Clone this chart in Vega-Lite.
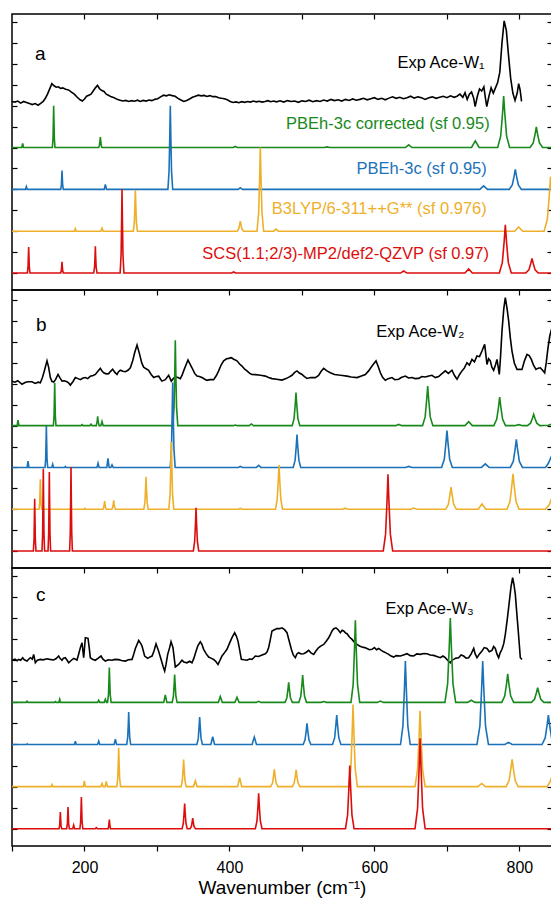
{
"$schema":"https://vega.github.io/schema/vega-lite/v6.json",
"padding":{"left":10,"top":12,"right":0,"bottom":0},
"spacing":0,
"bounds":"flush",
"config":{"view":{"stroke":"#000","strokeWidth":1.5},"axis":{"tickColor":"#000","tickWidth":1.2,"labelColor":"#000","titleColor":"#000","labelFont":"Liberation Sans","titleFont":"Liberation Sans","minExtent":0,"grid":false,"domain":false},"text":{"font":"Liberation Sans"}},
"datasets":{
"a":[
{"s":"e","x":100,"y":8.2},{"s":"e","x":104,"y":8.17},{"s":"e","x":108,"y":8.22},{"s":"e","x":112,"y":8.12},{"s":"e","x":116,"y":8.2},{"s":"e","x":120,"y":8.15},{"s":"e","x":124,"y":8.1},{"s":"e","x":128,"y":8.05},{"s":"e","x":132,"y":8.1},{"s":"e","x":136,"y":8.02},{"s":"e","x":140,"y":8.12},{"s":"e","x":143,"y":8.2},{"s":"e","x":146,"y":8.35},{"s":"e","x":149,"y":8.55},{"s":"e","x":152,"y":8.8},{"s":"e","x":155,"y":9.05},{"s":"e","x":158,"y":8.95},{"s":"e","x":161,"y":8.88},{"s":"e","x":164,"y":8.9},{"s":"e","x":167,"y":8.82},{"s":"e","x":170,"y":8.85},{"s":"e","x":174,"y":8.78},{"s":"e","x":178,"y":8.75},{"s":"e","x":182,"y":8.65},{"s":"e","x":186,"y":8.55},{"s":"e","x":190,"y":8.4},{"s":"e","x":194,"y":8.28},{"s":"e","x":197,"y":8.22},{"s":"e","x":200,"y":8.32},{"s":"e","x":203,"y":8.45},{"s":"e","x":206,"y":8.5},{"s":"e","x":209,"y":8.55},{"s":"e","x":212,"y":8.7},{"s":"e","x":215,"y":8.85},{"s":"e","x":218,"y":8.97},{"s":"e","x":221,"y":8.8},{"s":"e","x":224,"y":8.72},{"s":"e","x":227,"y":8.68},{"s":"e","x":230,"y":8.55},{"s":"e","x":233,"y":8.5},{"s":"e","x":237,"y":8.42},{"s":"e","x":241,"y":8.38},{"s":"e","x":245,"y":8.3},{"s":"e","x":249,"y":8.26},{"s":"e","x":253,"y":8.22},{"s":"e","x":257,"y":8.25},{"s":"e","x":261,"y":8.2},{"s":"e","x":265,"y":8.24},{"s":"e","x":269,"y":8.21},{"s":"e","x":273,"y":8.26},{"s":"e","x":277,"y":8.2},{"s":"e","x":281,"y":8.25},{"s":"e","x":285,"y":8.22},{"s":"e","x":289,"y":8.27},{"s":"e","x":293,"y":8.24},{"s":"e","x":297,"y":8.3},{"s":"e","x":301,"y":8.33},{"s":"e","x":305,"y":8.42},{"s":"e","x":309,"y":8.5},{"s":"e","x":313,"y":8.47},{"s":"e","x":317,"y":8.52},{"s":"e","x":321,"y":8.48},{"s":"e","x":325,"y":8.45},{"s":"e","x":329,"y":8.35},{"s":"e","x":333,"y":8.27},{"s":"e","x":337,"y":8.2},{"s":"e","x":341,"y":8.25},{"s":"e","x":345,"y":8.32},{"s":"e","x":349,"y":8.4},{"s":"e","x":353,"y":8.45},{"s":"e","x":357,"y":8.5},{"s":"e","x":361,"y":8.47},{"s":"e","x":365,"y":8.49},{"s":"e","x":369,"y":8.44},{"s":"e","x":373,"y":8.48},{"s":"e","x":377,"y":8.43},{"s":"e","x":381,"y":8.44},{"s":"e","x":385,"y":8.38},{"s":"e","x":389,"y":8.35},{"s":"e","x":393,"y":8.33},{"s":"e","x":397,"y":8.28},{"s":"e","x":401,"y":8.2},{"s":"e","x":405,"y":8.15},{"s":"e","x":409,"y":8.18},{"s":"e","x":413,"y":8.14},{"s":"e","x":417,"y":8.19},{"s":"e","x":421,"y":8.16},{"s":"e","x":425,"y":8.2},{"s":"e","x":429,"y":8.17},{"s":"e","x":433,"y":8.22},{"s":"e","x":437,"y":8.18},{"s":"e","x":441,"y":8.21},{"s":"e","x":445,"y":8.17},{"s":"e","x":449,"y":8.2},{"s":"e","x":453,"y":8.24},{"s":"e","x":457,"y":8.19},{"s":"e","x":461,"y":8.22},{"s":"e","x":465,"y":8.18},{"s":"e","x":470,"y":8.23},{"s":"e","x":475,"y":8.17},{"s":"e","x":480,"y":8.24},{"s":"e","x":485,"y":8.2},{"s":"e","x":490,"y":8.22},{"s":"e","x":495,"y":8.16},{"s":"e","x":500,"y":8.23},{"s":"e","x":505,"y":8.2},{"s":"e","x":510,"y":8.26},{"s":"e","x":515,"y":8.19},{"s":"e","x":520,"y":8.24},{"s":"e","x":525,"y":8.2},{"s":"e","x":530,"y":8.27},{"s":"e","x":535,"y":8.22},{"s":"e","x":540,"y":8.3},{"s":"e","x":545,"y":8.24},{"s":"e","x":550,"y":8.28},{"s":"e","x":555,"y":8.22},{"s":"e","x":560,"y":8.3},{"s":"e","x":565,"y":8.25},{"s":"e","x":570,"y":8.32},{"s":"e","x":575,"y":8.26},{"s":"e","x":580,"y":8.3},{"s":"e","x":585,"y":8.35},{"s":"e","x":590,"y":8.28},{"s":"e","x":595,"y":8.33},{"s":"e","x":600,"y":8.38},{"s":"e","x":605,"y":8.3},{"s":"e","x":610,"y":8.35},{"s":"e","x":615,"y":8.28},{"s":"e","x":620,"y":8.36},{"s":"e","x":625,"y":8.42},{"s":"e","x":630,"y":8.35},{"s":"e","x":635,"y":8.4},{"s":"e","x":640,"y":8.33},{"s":"e","x":645,"y":8.38},{"s":"e","x":650,"y":8.45},{"s":"e","x":655,"y":8.36},{"s":"e","x":660,"y":8.42},{"s":"e","x":665,"y":8.38},{"s":"e","x":670,"y":8.3},{"s":"e","x":675,"y":8.38},{"s":"e","x":680,"y":8.42},{"s":"e","x":685,"y":8.35},{"s":"e","x":690,"y":8.4},{"s":"e","x":695,"y":8.45},{"s":"e","x":700,"y":8.38},{"s":"e","x":705,"y":8.47},{"s":"e","x":710,"y":8.4},{"s":"e","x":714,"y":8.45},{"s":"e","x":718,"y":8.55},{"s":"e","x":722,"y":8.4},{"s":"e","x":725,"y":8.62},{"s":"e","x":728,"y":8.3},{"s":"e","x":731,"y":8.55},{"s":"e","x":734,"y":8.65},{"s":"e","x":737,"y":8.35},{"s":"e","x":739,"y":7.95},{"s":"e","x":742,"y":8.45},{"s":"e","x":745,"y":8.8},{"s":"e","x":748,"y":8.7},{"s":"e","x":751,"y":8.9},{"s":"e","x":753,"y":8.4},{"s":"e","x":755,"y":7.95},{"s":"e","x":758,"y":8.45},{"s":"e","x":761,"y":8.85},{"s":"e","x":764,"y":8.6},{"s":"e","x":767,"y":8.85},{"s":"e","x":770,"y":9.1},{"s":"e","x":773,"y":9.6},{"s":"e","x":776,"y":11.0},{"s":"e","x":779,"y":12.05},{"s":"e","x":782,"y":11.6},{"s":"e","x":785,"y":10.4},{"s":"e","x":788,"y":9.3},{"s":"e","x":791,"y":8.6},{"s":"e","x":794,"y":8.25},{"s":"e","x":797,"y":8.6},{"s":"e","x":799,"y":9.05},{"s":"e","x":801,"y":8.75},{"s":"e","x":803,"y":8.2},
{"s":"g","x":100,"y":6},{"s":"g","x":113.5,"y":6},{"s":"g","x":114.7,"y":6.2},{"s":"g","x":115.9,"y":6},{"s":"g","x":155.7,"y":6},{"s":"g","x":156.6,"y":6.44},{"s":"g","x":157.1,"y":7.3},{"s":"g","x":157.5,"y":8},{"s":"g","x":157.9,"y":7.3},{"s":"g","x":158.4,"y":6.44},{"s":"g","x":159.3,"y":6},{"s":"g","x":219.6,"y":6},{"s":"g","x":220.7,"y":6.11},{"s":"g","x":221.4,"y":6.33},{"s":"g","x":221.9,"y":6.5},{"s":"g","x":222.4,"y":6.33},{"s":"g","x":223.1,"y":6.11},{"s":"g","x":224.2,"y":6},{"s":"g","x":405.1,"y":6},{"s":"g","x":408,"y":6.05},{"s":"g","x":410.9,"y":6},{"s":"g","x":530.9,"y":6},{"s":"g","x":534.6,"y":6.03},{"s":"g","x":538.3,"y":6},{"s":"g","x":642.8,"y":6},{"s":"g","x":647.3,"y":6.13},{"s":"g","x":651.8,"y":6},{"s":"g","x":734,"y":6},{"s":"g","x":739.2,"y":6.32},{"s":"g","x":744.4,"y":6},{"s":"g","x":770.1,"y":6},{"s":"g","x":774.2,"y":6.54},{"s":"g","x":776.7,"y":7.6},{"s":"g","x":778.3,"y":8.46},{"s":"g","x":779.9,"y":7.6},{"s":"g","x":782.4,"y":6.54},{"s":"g","x":786.5,"y":6},{"s":"g","x":814.8,"y":6},{"s":"g","x":819.1,"y":6.22},{"s":"g","x":821.7,"y":6.64},{"s":"g","x":823.4,"y":6.98},{"s":"g","x":825.1,"y":6.64},{"s":"g","x":827.7,"y":6.22},{"s":"g","x":832,"y":6},{"s":"g","x":845,"y":6},
{"s":"u","x":100,"y":4},{"s":"u","x":118.6,"y":4},{"s":"u","x":119.8,"y":4.13},{"s":"u","x":121,"y":4},{"s":"u","x":167.2,"y":4},{"s":"u","x":168.1,"y":4.2},{"s":"u","x":168.6,"y":4.59},{"s":"u","x":169,"y":4.9},{"s":"u","x":169.4,"y":4.59},{"s":"u","x":169.9,"y":4.2},{"s":"u","x":170.8,"y":4},{"s":"u","x":227.2,"y":4},{"s":"u","x":228.8,"y":4.23},{"s":"u","x":230.4,"y":4},{"s":"u","x":315.1,"y":4},{"s":"u","x":316.7,"y":4.88},{"s":"u","x":317.7,"y":6.6},{"s":"u","x":318.4,"y":8},{"s":"u","x":319.1,"y":6.6},{"s":"u","x":320.1,"y":4.88},{"s":"u","x":321.7,"y":4},{"s":"u","x":412.1,"y":4},{"s":"u","x":415,"y":4.08},{"s":"u","x":417.9,"y":4},{"s":"u","x":745.4,"y":4},{"s":"u","x":750.7,"y":4.17},{"s":"u","x":756,"y":4},{"s":"u","x":786.1,"y":4},{"s":"u","x":790.2,"y":4.21},{"s":"u","x":792.7,"y":4.62},{"s":"u","x":794.4,"y":4.96},{"s":"u","x":796.1,"y":4.62},{"s":"u","x":798.6,"y":4.21},{"s":"u","x":802.7,"y":4},{"s":"u","x":845,"y":4},
{"s":"o","x":100,"y":2},{"s":"o","x":186.2,"y":2},{"s":"o","x":187.4,"y":2.12},{"s":"o","x":188.6,"y":2},{"s":"o","x":222.6,"y":2},{"s":"o","x":224.2,"y":2.15},{"s":"o","x":225.8,"y":2},{"s":"o","x":267.4,"y":2},{"s":"o","x":268.8,"y":2.43},{"s":"o","x":269.6,"y":3.27},{"s":"o","x":270.2,"y":3.96},{"s":"o","x":270.8,"y":3.27},{"s":"o","x":271.6,"y":2.43},{"s":"o","x":273,"y":2},{"s":"o","x":410.6,"y":2},{"s":"o","x":412.8,"y":2.11},{"s":"o","x":414.1,"y":2.31},{"s":"o","x":415,"y":2.48},{"s":"o","x":415.9,"y":2.31},{"s":"o","x":417.2,"y":2.11},{"s":"o","x":419.4,"y":2},{"s":"o","x":438,"y":2},{"s":"o","x":440.3,"y":2.88},{"s":"o","x":441.7,"y":4.6},{"s":"o","x":442.6,"y":6},{"s":"o","x":443.5,"y":4.6},{"s":"o","x":444.9,"y":2.88},{"s":"o","x":447.2,"y":2},{"s":"o","x":461,"y":2},{"s":"o","x":464.2,"y":2.1},{"s":"o","x":467.4,"y":2},{"s":"o","x":793.4,"y":2},{"s":"o","x":799,"y":2.2},{"s":"o","x":804.6,"y":2},{"s":"o","x":834.1,"y":2},{"s":"o","x":838.6,"y":2.57},{"s":"o","x":841.2,"y":3.69},{"s":"o","x":843,"y":4.6},{"s":"o","x":845,"y":3.9},
{"s":"r","x":100,"y":0},{"s":"r","x":121.2,"y":0},{"s":"r","x":122.1,"y":0.27},{"s":"r","x":122.6,"y":0.81},{"s":"r","x":123,"y":1.24},{"s":"r","x":123.4,"y":0.81},{"s":"r","x":123.9,"y":0.27},{"s":"r","x":124.8,"y":0},{"s":"r","x":167.2,"y":0},{"s":"r","x":168.1,"y":0.12},{"s":"r","x":168.6,"y":0.35},{"s":"r","x":169,"y":0.54},{"s":"r","x":169.4,"y":0.35},{"s":"r","x":169.9,"y":0.12},{"s":"r","x":170.8,"y":0},{"s":"r","x":212.7,"y":0},{"s":"r","x":213.9,"y":0.28},{"s":"r","x":214.6,"y":0.83},{"s":"r","x":215,"y":1.28},{"s":"r","x":215.4,"y":0.83},{"s":"r","x":216.1,"y":0.28},{"s":"r","x":217.3,"y":0},{"s":"r","x":249.2,"y":0},{"s":"r","x":250.5,"y":0.88},{"s":"r","x":251.3,"y":2.6},{"s":"r","x":251.8,"y":4},{"s":"r","x":252.3,"y":2.6},{"s":"r","x":253.1,"y":0.88},{"s":"r","x":254.4,"y":0},{"s":"r","x":403,"y":0},{"s":"r","x":405.8,"y":0.05},{"s":"r","x":408.6,"y":0},{"s":"r","x":635.9,"y":0},{"s":"r","x":640.4,"y":0.1},{"s":"r","x":644.9,"y":0},{"s":"r","x":724.9,"y":0},{"s":"r","x":730,"y":0.2},{"s":"r","x":735.1,"y":0},{"s":"r","x":772.4,"y":0},{"s":"r","x":776.5,"y":0.51},{"s":"r","x":779,"y":1.5},{"s":"r","x":780.6,"y":2.3},{"s":"r","x":782.2,"y":1.5},{"s":"r","x":784.7,"y":0.51},{"s":"r","x":788.8,"y":0},{"s":"r","x":808.8,"y":0},{"s":"r","x":813.1,"y":0.15},{"s":"r","x":815.7,"y":0.46},{"s":"r","x":817.4,"y":0.7},{"s":"r","x":819.1,"y":0.46},{"s":"r","x":821.7,"y":0.15},{"s":"r","x":826,"y":0},{"s":"r","x":845,"y":0}
],
"b":[
{"s":"e","x":100,"y":8.13},{"s":"e","x":104,"y":8.08},{"s":"e","x":108,"y":8.15},{"s":"e","x":113.8,"y":7.98},{"s":"e","x":118,"y":8.06},{"s":"e","x":122,"y":8.1},{"s":"e","x":127.6,"y":8.1},{"s":"e","x":132,"y":8.02},{"s":"e","x":136,"y":8.08},{"s":"e","x":139.1,"y":8.05},{"s":"e","x":142,"y":8.3},{"s":"e","x":144.5,"y":8.6},{"s":"e","x":148.3,"y":9.1},{"s":"e","x":150.5,"y":8.8},{"s":"e","x":152.9,"y":8.3},{"s":"e","x":155,"y":8.12},{"s":"e","x":157.5,"y":8.09},{"s":"e","x":160,"y":8.2},{"s":"e","x":163.5,"y":8.45},{"s":"e","x":166,"y":8.3},{"s":"e","x":169,"y":8.13},{"s":"e","x":172,"y":8.15},{"s":"e","x":175.9,"y":8.1},{"s":"e","x":178,"y":8.05},{"s":"e","x":180.5,"y":7.94},{"s":"e","x":184,"y":8.1},{"s":"e","x":187.4,"y":8.3},{"s":"e","x":191,"y":8.25},{"s":"e","x":194.3,"y":8.2},{"s":"e","x":198,"y":8.28},{"s":"e","x":201.2,"y":8.3},{"s":"e","x":204.5,"y":8.25},{"s":"e","x":208.1,"y":8.37},{"s":"e","x":212,"y":8.4},{"s":"e","x":215,"y":8.45},{"s":"e","x":218.5,"y":8.6},{"s":"e","x":221.9,"y":8.74},{"s":"e","x":224.5,"y":8.6},{"s":"e","x":226.5,"y":8.53},{"s":"e","x":230,"y":8.48},{"s":"e","x":233.4,"y":8.49},{"s":"e","x":236,"y":8.6},{"s":"e","x":238.9,"y":8.7},{"s":"e","x":242,"y":8.55},{"s":"e","x":244.9,"y":8.45},{"s":"e","x":247,"y":8.58},{"s":"e","x":249.5,"y":8.65},{"s":"e","x":253,"y":8.6},{"s":"e","x":256.4,"y":8.58},{"s":"e","x":260,"y":8.65},{"s":"e","x":263.3,"y":8.77},{"s":"e","x":266.5,"y":9.1},{"s":"e","x":269.2,"y":9.49},{"s":"e","x":272.5,"y":9.86},{"s":"e","x":276.1,"y":9.41},{"s":"e","x":279,"y":9.0},{"s":"e","x":281.6,"y":8.8},{"s":"e","x":285,"y":8.72},{"s":"e","x":288.5,"y":8.65},{"s":"e","x":292,"y":8.45},{"s":"e","x":295.5,"y":8.3},{"s":"e","x":299,"y":8.35},{"s":"e","x":302.4,"y":8.37},{"s":"e","x":305,"y":8.22},{"s":"e","x":306.9,"y":8.13},{"s":"e","x":311.5,"y":8.2},{"s":"e","x":316.1,"y":8.41},{"s":"e","x":319.8,"y":8.13},{"s":"e","x":322.5,"y":8.25},{"s":"e","x":325.3,"y":8.33},{"s":"e","x":329,"y":8.3},{"s":"e","x":332.2,"y":8.25},{"s":"e","x":334.5,"y":8.4},{"s":"e","x":336.8,"y":8.62},{"s":"e","x":340,"y":8.9},{"s":"e","x":342.8,"y":9.14},{"s":"e","x":345.5,"y":8.95},{"s":"e","x":348.3,"y":8.77},{"s":"e","x":352,"y":8.5},{"s":"e","x":355.2,"y":8.37},{"s":"e","x":358.5,"y":8.35},{"s":"e","x":362.1,"y":8.3},{"s":"e","x":366,"y":8.22},{"s":"e","x":369,"y":8.17},{"s":"e","x":373,"y":8.2},{"s":"e","x":378.2,"y":8.2},{"s":"e","x":382,"y":8.4},{"s":"e","x":385.1,"y":8.62},{"s":"e","x":388.5,"y":8.9},{"s":"e","x":392,"y":9.1},{"s":"e","x":396,"y":9.2},{"s":"e","x":399,"y":9.22},{"s":"e","x":402.6,"y":9.25},{"s":"e","x":406,"y":9.18},{"s":"e","x":410.4,"y":9.1},{"s":"e","x":414,"y":8.95},{"s":"e","x":417.3,"y":8.85},{"s":"e","x":421,"y":8.7},{"s":"e","x":424.2,"y":8.62},{"s":"e","x":428,"y":8.5},{"s":"e","x":431.1,"y":8.45},{"s":"e","x":436,"y":8.44},{"s":"e","x":440.3,"y":8.42},{"s":"e","x":445,"y":8.4},{"s":"e","x":449.5,"y":8.37},{"s":"e","x":454,"y":8.3},{"s":"e","x":458.7,"y":8.25},{"s":"e","x":465,"y":8.22},{"s":"e","x":472.5,"y":8.18},{"s":"e","x":478,"y":8.25},{"s":"e","x":482,"y":8.32},{"s":"e","x":486.3,"y":8.41},{"s":"e","x":490,"y":8.55},{"s":"e","x":493.2,"y":8.62},{"s":"e","x":496.5,"y":8.52},{"s":"e","x":500.1,"y":8.45},{"s":"e","x":503.5,"y":8.35},{"s":"e","x":507,"y":8.26},{"s":"e","x":512,"y":8.3},{"s":"e","x":518.5,"y":8.3},{"s":"e","x":523,"y":8.4},{"s":"e","x":526.5,"y":8.6},{"s":"e","x":530,"y":8.74},{"s":"e","x":534.5,"y":8.62},{"s":"e","x":539.2,"y":8.53},{"s":"e","x":545,"y":8.45},{"s":"e","x":550.7,"y":8.42},{"s":"e","x":556,"y":8.4},{"s":"e","x":562.2,"y":8.37},{"s":"e","x":568,"y":8.33},{"s":"e","x":576,"y":8.3},{"s":"e","x":582,"y":8.38},{"s":"e","x":587.5,"y":8.45},{"s":"e","x":592,"y":8.62},{"s":"e","x":596.7,"y":8.85},{"s":"e","x":602.2,"y":9.1},{"s":"e","x":605,"y":8.85},{"s":"e","x":608.2,"y":8.53},{"s":"e","x":611.5,"y":8.3},{"s":"e","x":615.1,"y":8.17},{"s":"e","x":619,"y":8.25},{"s":"e","x":624.3,"y":8.3},{"s":"e","x":628,"y":8.2},{"s":"e","x":633.5,"y":8.22},{"s":"e","x":637,"y":8.3},{"s":"e","x":642.7,"y":8.37},{"s":"e","x":647,"y":8.28},{"s":"e","x":651.9,"y":8.3},{"s":"e","x":656,"y":8.25},{"s":"e","x":661.1,"y":8.26},{"s":"e","x":665.5,"y":8.35},{"s":"e","x":670.2,"y":8.33},{"s":"e","x":675,"y":8.38},{"s":"e","x":679.4,"y":8.41},{"s":"e","x":684,"y":8.3},{"s":"e","x":688.6,"y":8.35},{"s":"e","x":692,"y":8.45},{"s":"e","x":697.8,"y":8.62},{"s":"e","x":702,"y":8.5},{"s":"e","x":707,"y":8.65},{"s":"e","x":710.5,"y":8.4},{"s":"e","x":714,"y":8.22},{"s":"e","x":717.5,"y":8.45},{"s":"e","x":720.8,"y":8.62},{"s":"e","x":724,"y":8.75},{"s":"e","x":727.7,"y":9.01},{"s":"e","x":731,"y":8.9},{"s":"e","x":734.6,"y":9.17},{"s":"e","x":738,"y":9.05},{"s":"e","x":741.5,"y":9.33},{"s":"e","x":745,"y":9.3},{"s":"e","x":748.4,"y":9.57},{"s":"e","x":752.1,"y":9.89},{"s":"e","x":755.3,"y":8.93},{"s":"e","x":757.5,"y":9.2},{"s":"e","x":759.9,"y":9.1},{"s":"e","x":762,"y":8.8},{"s":"e","x":764.5,"y":8.65},{"s":"e","x":767,"y":8.9},{"s":"e","x":769.1,"y":9.17},{"s":"e","x":772.3,"y":8.45},{"s":"e","x":774,"y":9.3},{"s":"e","x":776,"y":10.53},{"s":"e","x":778.5,"y":11.6},{"s":"e","x":780.6,"y":12.12},{"s":"e","x":783,"y":11.6},{"s":"e","x":785.2,"y":11.01},{"s":"e","x":787.5,"y":10.2},{"s":"e","x":789.8,"y":9.57},{"s":"e","x":793,"y":9.0},{"s":"e","x":796.7,"y":8.69},{"s":"e","x":800,"y":8.7},{"s":"e","x":803.6,"y":8.69},{"s":"e","x":807,"y":9.1},{"s":"e","x":810.5,"y":9.41},{"s":"e","x":813.5,"y":9.35},{"s":"e","x":816.5,"y":9.17},{"s":"e","x":819.5,"y":8.9},{"s":"e","x":822.9,"y":8.69},{"s":"e","x":826,"y":8.75},{"s":"e","x":828.9,"y":8.77},{"s":"e","x":832,"y":8.65},{"s":"e","x":834.9,"y":8.53},{"s":"e","x":837,"y":9.0},{"s":"e","x":839.5,"y":9.73},{"s":"e","x":842,"y":10.3},{"s":"e","x":845,"y":10.69},
{"s":"g","x":100,"y":6},{"s":"g","x":107.1,"y":6},{"s":"g","x":108.3,"y":6.27},{"s":"g","x":109.5,"y":6},{"s":"g","x":157.1,"y":6},{"s":"g","x":158,"y":6.45},{"s":"g","x":158.5,"y":7.33},{"s":"g","x":158.9,"y":8.05},{"s":"g","x":159.3,"y":7.33},{"s":"g","x":159.8,"y":6.45},{"s":"g","x":160.7,"y":6},{"s":"g","x":195.2,"y":6},{"s":"g","x":196.6,"y":6.05},{"s":"g","x":198,"y":6},{"s":"g","x":207.5,"y":6},{"s":"g","x":209,"y":6.07},{"s":"g","x":210.5,"y":6},{"s":"g","x":216.2,"y":6},{"s":"g","x":217.5,"y":6.2},{"s":"g","x":218.2,"y":6.45},{"s":"g","x":218.9,"y":6.2},{"s":"g","x":220.2,"y":6},{"s":"g","x":222.6,"y":6},{"s":"g","x":224.2,"y":6.2},{"s":"g","x":225.8,"y":6},{"s":"g","x":321.9,"y":6},{"s":"g","x":323.6,"y":6.9},{"s":"g","x":324.6,"y":8.65},{"s":"g","x":325.3,"y":10.08},{"s":"g","x":326,"y":8.65},{"s":"g","x":327,"y":6.9},{"s":"g","x":328.7,"y":6},{"s":"g","x":405.1,"y":6},{"s":"g","x":408,"y":6.03},{"s":"g","x":410.9,"y":6},{"s":"g","x":427.2,"y":6},{"s":"g","x":430.2,"y":6.08},{"s":"g","x":433.2,"y":6},{"s":"g","x":486.6,"y":6},{"s":"g","x":489.2,"y":6.35},{"s":"g","x":490.8,"y":7.03},{"s":"g","x":491.8,"y":7.58},{"s":"g","x":492.8,"y":7.03},{"s":"g","x":494.4,"y":6.35},{"s":"g","x":497,"y":6},{"s":"g","x":629.1,"y":6},{"s":"g","x":633.5,"y":6.06},{"s":"g","x":637.9,"y":6},{"s":"g","x":666.4,"y":6},{"s":"g","x":670,"y":6.42},{"s":"g","x":672.1,"y":7.24},{"s":"g","x":673.5,"y":7.9},{"s":"g","x":674.9,"y":7.24},{"s":"g","x":677,"y":6.42},{"s":"g","x":680.6,"y":6},{"s":"g","x":724.9,"y":6},{"s":"g","x":730,"y":6.19},{"s":"g","x":735.1,"y":6},{"s":"g","x":764.7,"y":6},{"s":"g","x":768.7,"y":6.3},{"s":"g","x":771.2,"y":6.89},{"s":"g","x":772.8,"y":7.37},{"s":"g","x":774.4,"y":6.89},{"s":"g","x":776.9,"y":6.3},{"s":"g","x":780.9,"y":6},{"s":"g","x":793.4,"y":6},{"s":"g","x":799,"y":6.05},{"s":"g","x":804.6,"y":6},{"s":"g","x":811.1,"y":6},{"s":"g","x":815.4,"y":6.12},{"s":"g","x":818,"y":6.35},{"s":"g","x":819.7,"y":6.54},{"s":"g","x":821.4,"y":6.35},{"s":"g","x":824,"y":6.12},{"s":"g","x":828.3,"y":6},{"s":"g","x":840,"y":6.02},{"s":"g","x":845,"y":6.08},
{"s":"u","x":100,"y":4},{"s":"u","x":120.9,"y":4},{"s":"u","x":122.1,"y":4.3},{"s":"u","x":123.3,"y":4},{"s":"u","x":145.6,"y":4},{"s":"u","x":146.5,"y":4.44},{"s":"u","x":147,"y":5.29},{"s":"u","x":147.4,"y":5.98},{"s":"u","x":147.8,"y":5.29},{"s":"u","x":148.3,"y":4.44},{"s":"u","x":149.2,"y":4},{"s":"u","x":154.9,"y":4},{"s":"u","x":156.1,"y":4.15},{"s":"u","x":157.3,"y":4},{"s":"u","x":172.4,"y":4},{"s":"u","x":173.6,"y":4.05},{"s":"u","x":174.8,"y":4},{"s":"u","x":217.2,"y":4},{"s":"u","x":218.7,"y":4.2},{"s":"u","x":220.2,"y":4},{"s":"u","x":230.8,"y":4},{"s":"u","x":232.4,"y":4.43},{"s":"u","x":234,"y":4},{"s":"u","x":236.4,"y":4},{"s":"u","x":238,"y":4.12},{"s":"u","x":239.6,"y":4},{"s":"u","x":318.3,"y":4},{"s":"u","x":320,"y":4.89},{"s":"u","x":321,"y":6.64},{"s":"u","x":321.7,"y":8.06},{"s":"u","x":322.4,"y":6.64},{"s":"u","x":323.4,"y":4.89},{"s":"u","x":325.1,"y":4},{"s":"u","x":412.1,"y":4},{"s":"u","x":415,"y":4.05},{"s":"u","x":417.9,"y":4},{"s":"u","x":437.2,"y":4},{"s":"u","x":440.3,"y":4.1},{"s":"u","x":443.4,"y":4},{"s":"u","x":488,"y":4},{"s":"u","x":490.6,"y":4.35},{"s":"u","x":492.2,"y":5.03},{"s":"u","x":493.2,"y":5.58},{"s":"u","x":494.2,"y":5.03},{"s":"u","x":495.8,"y":4.35},{"s":"u","x":498.4,"y":4},{"s":"u","x":642.8,"y":4},{"s":"u","x":647.3,"y":4.05},{"s":"u","x":651.8,"y":4},{"s":"u","x":692.7,"y":4},{"s":"u","x":696.4,"y":4.39},{"s":"u","x":698.6,"y":5.15},{"s":"u","x":700.1,"y":5.77},{"s":"u","x":701.6,"y":5.15},{"s":"u","x":703.8,"y":4.39},{"s":"u","x":707.5,"y":4},{"s":"u","x":747.7,"y":4},{"s":"u","x":753,"y":4.17},{"s":"u","x":758.3,"y":4},{"s":"u","x":787.4,"y":4},{"s":"u","x":791.6,"y":4.29},{"s":"u","x":794.1,"y":4.87},{"s":"u","x":795.8,"y":5.34},{"s":"u","x":797.5,"y":4.87},{"s":"u","x":800,"y":4.29},{"s":"u","x":804.2,"y":4},{"s":"u","x":836,"y":4},{"s":"u","x":840,"y":4.2},{"s":"u","x":845,"y":4.6},
{"s":"o","x":100,"y":2},{"s":"o","x":137.3,"y":2},{"s":"o","x":138.2,"y":2.31},{"s":"o","x":138.7,"y":2.93},{"s":"o","x":139.1,"y":3.43},{"s":"o","x":139.5,"y":2.93},{"s":"o","x":140,"y":2.31},{"s":"o","x":140.9,"y":2},{"s":"o","x":198.9,"y":2},{"s":"o","x":200.3,"y":2.05},{"s":"o","x":201.7,"y":2},{"s":"o","x":225.4,"y":2},{"s":"o","x":226.6,"y":2.09},{"s":"o","x":227.3,"y":2.25},{"s":"o","x":227.8,"y":2.39},{"s":"o","x":228.3,"y":2.25},{"s":"o","x":229,"y":2.09},{"s":"o","x":230.2,"y":2},{"s":"o","x":237.8,"y":2},{"s":"o","x":239,"y":2.09},{"s":"o","x":239.8,"y":2.28},{"s":"o","x":240.3,"y":2.43},{"s":"o","x":240.8,"y":2.28},{"s":"o","x":241.6,"y":2.09},{"s":"o","x":242.8,"y":2},{"s":"o","x":281.9,"y":2},{"s":"o","x":283.4,"y":2.34},{"s":"o","x":284.3,"y":3.01},{"s":"o","x":284.9,"y":3.56},{"s":"o","x":285.5,"y":3.01},{"s":"o","x":286.4,"y":2.34},{"s":"o","x":287.9,"y":2},{"s":"o","x":316.4,"y":2},{"s":"o","x":318.1,"y":2.71},{"s":"o","x":319.1,"y":4.1},{"s":"o","x":319.8,"y":5.23},{"s":"o","x":320.5,"y":4.1},{"s":"o","x":321.5,"y":2.71},{"s":"o","x":323.2,"y":2},{"s":"o","x":412.1,"y":2},{"s":"o","x":415,"y":2.04},{"s":"o","x":417.9,"y":2},{"s":"o","x":463.5,"y":2},{"s":"o","x":465.9,"y":2.47},{"s":"o","x":467.4,"y":3.38},{"s":"o","x":468.4,"y":4.12},{"s":"o","x":469.4,"y":3.38},{"s":"o","x":470.9,"y":2.47},{"s":"o","x":473.3,"y":2},{"s":"o","x":556,"y":2},{"s":"o","x":559.9,"y":2.05},{"s":"o","x":563.8,"y":2},{"s":"o","x":649.6,"y":2},{"s":"o","x":654.2,"y":2.06},{"s":"o","x":658.8,"y":2},{"s":"o","x":698.3,"y":2},{"s":"o","x":702,"y":2.23},{"s":"o","x":704.2,"y":2.69},{"s":"o","x":705.7,"y":3.06},{"s":"o","x":707.2,"y":2.69},{"s":"o","x":709.4,"y":2.23},{"s":"o","x":713.1,"y":2},{"s":"o","x":743.2,"y":2},{"s":"o","x":748.4,"y":2.26},{"s":"o","x":753.6,"y":2},{"s":"o","x":782.9,"y":2},{"s":"o","x":787,"y":2.37},{"s":"o","x":789.5,"y":3.11},{"s":"o","x":791.2,"y":3.7},{"s":"o","x":792.9,"y":3.11},{"s":"o","x":795.4,"y":2.37},{"s":"o","x":799.5,"y":2},{"s":"o","x":836,"y":2},{"s":"o","x":841,"y":2.2},{"s":"o","x":845,"y":2.55},
{"s":"r","x":100,"y":0},{"s":"r","x":129.5,"y":0},{"s":"r","x":130.4,"y":0.55},{"s":"r","x":130.9,"y":1.63},{"s":"r","x":131.3,"y":2.5},{"s":"r","x":131.7,"y":1.63},{"s":"r","x":132.2,"y":0.55},{"s":"r","x":133.1,"y":0},{"s":"r","x":141.4,"y":0},{"s":"r","x":142.3,"y":0.87},{"s":"r","x":142.8,"y":2.56},{"s":"r","x":143.2,"y":3.94},{"s":"r","x":143.6,"y":2.56},{"s":"r","x":144.1,"y":0.87},{"s":"r","x":145,"y":0},{"s":"r","x":149.7,"y":0},{"s":"r","x":150.6,"y":0.83},{"s":"r","x":151.1,"y":2.46},{"s":"r","x":151.5,"y":3.78},{"s":"r","x":151.9,"y":2.46},{"s":"r","x":152.4,"y":0.83},{"s":"r","x":153.3,"y":0},{"s":"r","x":179.5,"y":0},{"s":"r","x":180.4,"y":0.88},{"s":"r","x":181,"y":2.61},{"s":"r","x":181.4,"y":4.02},{"s":"r","x":181.8,"y":2.61},{"s":"r","x":182.4,"y":0.88},{"s":"r","x":183.3,"y":0},{"s":"r","x":350.2,"y":0},{"s":"r","x":352,"y":0.46},{"s":"r","x":353.2,"y":1.35},{"s":"r","x":353.9,"y":2.07},{"s":"r","x":354.6,"y":1.35},{"s":"r","x":355.8,"y":0.46},{"s":"r","x":357.6,"y":0},{"s":"r","x":612.2,"y":0},{"s":"r","x":615.4,"y":0.81},{"s":"r","x":617.4,"y":2.39},{"s":"r","x":618.7,"y":3.67},{"s":"r","x":620,"y":2.39},{"s":"r","x":622,"y":0.81},{"s":"r","x":625.2,"y":0},{"s":"r","x":845,"y":0}
],
"c":[
{"s":"e","x":100,"y":8.0},{"s":"e","x":104,"y":8.05},{"s":"e","x":107,"y":7.98},{"s":"e","x":109.2,"y":8.04},{"s":"e","x":112,"y":8.0},{"s":"e","x":114.7,"y":8.12},{"s":"e","x":117,"y":8.02},{"s":"e","x":120.7,"y":7.96},{"s":"e","x":123,"y":8.05},{"s":"e","x":125.3,"y":8.12},{"s":"e","x":128,"y":8.05},{"s":"e","x":129.9,"y":8.28},{"s":"e","x":132.2,"y":7.88},{"s":"e","x":135,"y":8.0},{"s":"e","x":139.1,"y":8.04},{"s":"e","x":143,"y":8.02},{"s":"e","x":148.3,"y":8.07},{"s":"e","x":152,"y":8.04},{"s":"e","x":157.5,"y":8.01},{"s":"e","x":161,"y":8.08},{"s":"e","x":164.4,"y":8.2},{"s":"e","x":166.5,"y":8.08},{"s":"e","x":169,"y":8.0},{"s":"e","x":171,"y":8.1},{"s":"e","x":173.6,"y":8.12},{"s":"e","x":176,"y":8.0},{"s":"e","x":178.2,"y":7.88},{"s":"e","x":182,"y":8.0},{"s":"e","x":185.1,"y":8.09},{"s":"e","x":187.5,"y":8.05},{"s":"e","x":189.7,"y":8.01},{"s":"e","x":192,"y":8.3},{"s":"e","x":194.3,"y":8.6},{"s":"e","x":196.6,"y":8.83},{"s":"e","x":198.9,"y":8.12},{"s":"e","x":201.2,"y":9.07},{"s":"e","x":204.9,"y":9.04},{"s":"e","x":206.5,"y":8.6},{"s":"e","x":208.1,"y":8.12},{"s":"e","x":211,"y":8.05},{"s":"e","x":215,"y":8.0},{"s":"e","x":219,"y":8.1},{"s":"e","x":222.8,"y":8.2},{"s":"e","x":225.5,"y":8.05},{"s":"e","x":228.8,"y":7.96},{"s":"e","x":233,"y":8.02},{"s":"e","x":237.9,"y":8.0},{"s":"e","x":242,"y":8.04},{"s":"e","x":247.2,"y":8.03},{"s":"e","x":251,"y":7.99},{"s":"e","x":256.4,"y":7.96},{"s":"e","x":260.5,"y":8.02},{"s":"e","x":265.6,"y":8.04},{"s":"e","x":268,"y":8.3},{"s":"e","x":270.2,"y":8.56},{"s":"e","x":274.8,"y":8.94},{"s":"e","x":277.5,"y":8.8},{"s":"e","x":279.4,"y":8.67},{"s":"e","x":283,"y":8.2},{"s":"e","x":287.2,"y":8.09},{"s":"e","x":290,"y":8.15},{"s":"e","x":293.2,"y":8.2},{"s":"e","x":296,"y":8.45},{"s":"e","x":298.7,"y":8.78},{"s":"e","x":302.3,"y":8.43},{"s":"e","x":306,"y":8.0},{"s":"e","x":308.5,"y":7.7},{"s":"e","x":310.6,"y":7.49},{"s":"e","x":312.5,"y":7.8},{"s":"e","x":314.8,"y":8.28},{"s":"e","x":317.5,"y":8.6},{"s":"e","x":319.4,"y":8.88},{"s":"e","x":322.1,"y":8.6},{"s":"e","x":325.3,"y":7.68},{"s":"e","x":329.9,"y":7.8},{"s":"e","x":334.5,"y":8.0},{"s":"e","x":337,"y":7.92},{"s":"e","x":341.4,"y":7.88},{"s":"e","x":345,"y":7.95},{"s":"e","x":348.3,"y":7.88},{"s":"e","x":351,"y":8.1},{"s":"e","x":353.9,"y":8.43},{"s":"e","x":356.5,"y":8.7},{"s":"e","x":359.8,"y":8.88},{"s":"e","x":362,"y":8.75},{"s":"e","x":364.4,"y":8.52},{"s":"e","x":368,"y":8.3},{"s":"e","x":371.3,"y":8.15},{"s":"e","x":374.5,"y":8.1},{"s":"e","x":378.2,"y":8.04},{"s":"e","x":381,"y":7.95},{"s":"e","x":384.2,"y":7.8},{"s":"e","x":387,"y":8.0},{"s":"e","x":389.7,"y":8.2},{"s":"e","x":393,"y":8.35},{"s":"e","x":396.6,"y":8.52},{"s":"e","x":400,"y":8.8},{"s":"e","x":403.5,"y":9.07},{"s":"e","x":407.2,"y":9.31},{"s":"e","x":409.5,"y":9.15},{"s":"e","x":411.8,"y":8.91},{"s":"e","x":414,"y":8.5},{"s":"e","x":416.4,"y":8.04},{"s":"e","x":420,"y":8.02},{"s":"e","x":424.2,"y":8.0},{"s":"e","x":427.5,"y":8.06},{"s":"e","x":431.1,"y":8.04},{"s":"e","x":433.5,"y":8.12},{"s":"e","x":435.7,"y":8.2},{"s":"e","x":440,"y":8.18},{"s":"e","x":445,"y":8.25},{"s":"e","x":449.5,"y":8.31},{"s":"e","x":452,"y":8.4},{"s":"e","x":454.1,"y":8.6},{"s":"e","x":456.5,"y":9.0},{"s":"e","x":458.7,"y":9.39},{"s":"e","x":462,"y":9.45},{"s":"e","x":465.6,"y":9.51},{"s":"e","x":469,"y":9.5},{"s":"e","x":472.5,"y":9.54},{"s":"e","x":476,"y":9.45},{"s":"e","x":479.4,"y":9.31},{"s":"e","x":482.5,"y":8.9},{"s":"e","x":485.4,"y":8.52},{"s":"e","x":488,"y":8.25},{"s":"e","x":490.9,"y":8.12},{"s":"e","x":493,"y":8.3},{"s":"e","x":495.5,"y":8.36},{"s":"e","x":499,"y":8.3},{"s":"e","x":502.4,"y":8.31},{"s":"e","x":506,"y":8.38},{"s":"e","x":509.3,"y":8.47},{"s":"e","x":512.5,"y":8.35},{"s":"e","x":516.2,"y":8.28},{"s":"e","x":519.5,"y":8.45},{"s":"e","x":523.1,"y":8.6},{"s":"e","x":526.5,"y":8.68},{"s":"e","x":530,"y":8.75},{"s":"e","x":533.5,"y":8.9},{"s":"e","x":536.9,"y":9.07},{"s":"e","x":539,"y":9.2},{"s":"e","x":541.5,"y":9.39},{"s":"e","x":544,"y":9.5},{"s":"e","x":547,"y":9.54},{"s":"e","x":550,"y":9.45},{"s":"e","x":553,"y":9.31},{"s":"e","x":555.5,"y":9.42},{"s":"e","x":557.6,"y":9.39},{"s":"e","x":560,"y":9.3},{"s":"e","x":562.2,"y":9.26},{"s":"e","x":565.5,"y":9.1},{"s":"e","x":569.1,"y":8.99},{"s":"e","x":572.5,"y":8.85},{"s":"e","x":576,"y":8.75},{"s":"e","x":579.5,"y":8.68},{"s":"e","x":582.9,"y":8.63},{"s":"e","x":586.5,"y":8.6},{"s":"e","x":589.8,"y":8.56},{"s":"e","x":593,"y":8.5},{"s":"e","x":596.7,"y":8.52},{"s":"e","x":600,"y":8.6},{"s":"e","x":603,"y":8.5},{"s":"e","x":605.9,"y":8.56},{"s":"e","x":609,"y":8.48},{"s":"e","x":612.8,"y":8.4},{"s":"e","x":616,"y":8.35},{"s":"e","x":619.7,"y":8.28},{"s":"e","x":623,"y":8.2},{"s":"e","x":626.6,"y":8.15},{"s":"e","x":630,"y":8.22},{"s":"e","x":635.8,"y":8.2},{"s":"e","x":640,"y":8.25},{"s":"e","x":645,"y":8.31},{"s":"e","x":649.5,"y":8.22},{"s":"e","x":654.2,"y":8.2},{"s":"e","x":658.5,"y":8.3},{"s":"e","x":663.4,"y":8.28},{"s":"e","x":668,"y":8.32},{"s":"e","x":672.6,"y":8.31},{"s":"e","x":677,"y":8.25},{"s":"e","x":681.8,"y":8.23},{"s":"e","x":686,"y":8.18},{"s":"e","x":691,"y":8.12},{"s":"e","x":694.5,"y":8.2},{"s":"e","x":697.8,"y":8.12},{"s":"e","x":701,"y":8.0},{"s":"e","x":704.7,"y":7.88},{"s":"e","x":707,"y":8.0},{"s":"e","x":709.3,"y":8.04},{"s":"e","x":712.5,"y":8.1},{"s":"e","x":716.2,"y":8.12},{"s":"e","x":719.5,"y":8.25},{"s":"e","x":723.1,"y":8.2},{"s":"e","x":726.5,"y":8.1},{"s":"e","x":730,"y":8.12},{"s":"e","x":733.5,"y":8.3},{"s":"e","x":737,"y":8.56},{"s":"e","x":739,"y":8.3},{"s":"e","x":741.5,"y":8.12},{"s":"e","x":745,"y":8.3},{"s":"e","x":748.4,"y":8.44},{"s":"e","x":751.5,"y":8.6},{"s":"e","x":755.3,"y":8.56},{"s":"e","x":758.5,"y":8.4},{"s":"e","x":762.2,"y":8.47},{"s":"e","x":764.5,"y":8.65},{"s":"e","x":766.8,"y":8.56},{"s":"e","x":769,"y":8.3},{"s":"e","x":771.4,"y":8.12},{"s":"e","x":773.5,"y":8.35},{"s":"e","x":776,"y":8.52},{"s":"e","x":778.5,"y":8.8},{"s":"e","x":780.6,"y":9.23},{"s":"e","x":783.5,"y":10.0},{"s":"e","x":786.2,"y":10.81},{"s":"e","x":788.5,"y":11.5},{"s":"e","x":790.7,"y":11.92},{"s":"e","x":792.5,"y":11.6},{"s":"e","x":794.4,"y":11.13},{"s":"e","x":796.5,"y":10.2},{"s":"e","x":798.1,"y":9.54},{"s":"e","x":800,"y":8.7},{"s":"e","x":801.3,"y":8.12},{"s":"e","x":803.6,"y":8.04},
{"s":"g","x":100,"y":6},{"s":"g","x":119.5,"y":6},{"s":"g","x":120.7,"y":6.05},{"s":"g","x":121.9,"y":6},{"s":"g","x":158.6,"y":6},{"s":"g","x":159.8,"y":6.04},{"s":"g","x":161,"y":6},{"s":"g","x":164.6,"y":6},{"s":"g","x":165.8,"y":6.15},{"s":"g","x":167,"y":6},{"s":"g","x":218.1,"y":6},{"s":"g","x":219.6,"y":6.1},{"s":"g","x":221.1,"y":6},{"s":"g","x":227.2,"y":6},{"s":"g","x":228.8,"y":6.15},{"s":"g","x":230.4,"y":6},{"s":"g","x":231.8,"y":6},{"s":"g","x":233.1,"y":6.37},{"s":"g","x":233.8,"y":7.08},{"s":"g","x":234.3,"y":7.66},{"s":"g","x":234.8,"y":7.08},{"s":"g","x":235.5,"y":6.37},{"s":"g","x":236.8,"y":6},{"s":"g","x":309.3,"y":6},{"s":"g","x":311.5,"y":6.35},{"s":"g","x":313.7,"y":6},{"s":"g","x":321,"y":6},{"s":"g","x":322.7,"y":6.29},{"s":"g","x":323.7,"y":6.86},{"s":"g","x":324.4,"y":7.32},{"s":"g","x":325.1,"y":6.86},{"s":"g","x":326.1,"y":6.29},{"s":"g","x":327.8,"y":6},{"s":"g","x":384.7,"y":6},{"s":"g","x":387.4,"y":6.28},{"s":"g","x":390.1,"y":6},{"s":"g","x":407.5,"y":6},{"s":"g","x":410.4,"y":6.24},{"s":"g","x":413.3,"y":6},{"s":"g","x":437.2,"y":6},{"s":"g","x":440.3,"y":6.05},{"s":"g","x":443.4,"y":6},{"s":"g","x":476.6,"y":6},{"s":"g","x":479.2,"y":6.21},{"s":"g","x":480.7,"y":6.62},{"s":"g","x":481.7,"y":6.95},{"s":"g","x":482.7,"y":6.62},{"s":"g","x":484.2,"y":6.21},{"s":"g","x":486.8,"y":6},{"s":"g","x":495.7,"y":6},{"s":"g","x":498.4,"y":6.29},{"s":"g","x":500,"y":6.85},{"s":"g","x":501,"y":7.3},{"s":"g","x":502,"y":6.85},{"s":"g","x":503.6,"y":6.29},{"s":"g","x":506.3,"y":6},{"s":"g","x":526.3,"y":6},{"s":"g","x":530,"y":6.04},{"s":"g","x":533.7,"y":6},{"s":"g","x":567.7,"y":6},{"s":"g","x":570.7,"y":6.86},{"s":"g","x":572.5,"y":8.54},{"s":"g","x":573.7,"y":9.9},{"s":"g","x":574.9,"y":8.54},{"s":"g","x":576.7,"y":6.86},{"s":"g","x":579.7,"y":6},{"s":"g","x":604,"y":6},{"s":"g","x":608.2,"y":6.06},{"s":"g","x":612.4,"y":6},{"s":"g","x":697.3,"y":6},{"s":"g","x":701,"y":6.88},{"s":"g","x":703.2,"y":8.6},{"s":"g","x":704.7,"y":10},{"s":"g","x":706.2,"y":8.6},{"s":"g","x":708.4,"y":6.88},{"s":"g","x":712.1,"y":6},{"s":"g","x":728.6,"y":6},{"s":"g","x":733.7,"y":6.1},{"s":"g","x":738.8,"y":6},{"s":"g","x":775.7,"y":6},{"s":"g","x":779.8,"y":6.3},{"s":"g","x":782.3,"y":6.88},{"s":"g","x":783.9,"y":7.35},{"s":"g","x":785.5,"y":6.88},{"s":"g","x":788,"y":6.3},{"s":"g","x":792.1,"y":6},{"s":"g","x":816.5,"y":6},{"s":"g","x":820.9,"y":6.15},{"s":"g","x":823.5,"y":6.46},{"s":"g","x":825.2,"y":6.7},{"s":"g","x":826.9,"y":6.46},{"s":"g","x":829.5,"y":6.15},{"s":"g","x":833.9,"y":6},{"s":"g","x":845,"y":6},
{"s":"u","x":100,"y":4},{"s":"u","x":120,"y":4},{"s":"u","x":121,"y":4.03},{"s":"u","x":122,"y":4},{"s":"u","x":186.2,"y":4},{"s":"u","x":187.4,"y":4.16},{"s":"u","x":188.6,"y":4},{"s":"u","x":218.1,"y":4},{"s":"u","x":219.6,"y":4.16},{"s":"u","x":221.1,"y":4},{"s":"u","x":240.9,"y":4},{"s":"u","x":242.6,"y":4.25},{"s":"u","x":244.3,"y":4},{"s":"u","x":258.3,"y":4},{"s":"u","x":259.6,"y":4.34},{"s":"u","x":260.5,"y":5},{"s":"u","x":261,"y":5.54},{"s":"u","x":261.5,"y":5},{"s":"u","x":262.4,"y":4.34},{"s":"u","x":263.7,"y":4},{"s":"u","x":355.1,"y":4},{"s":"u","x":357,"y":4.29},{"s":"u","x":358.1,"y":4.85},{"s":"u","x":358.9,"y":5.3},{"s":"u","x":359.7,"y":4.85},{"s":"u","x":360.8,"y":4.29},{"s":"u","x":362.7,"y":4},{"s":"u","x":374.3,"y":4},{"s":"u","x":376.9,"y":4.37},{"s":"u","x":379.5,"y":4},{"s":"u","x":431.3,"y":4},{"s":"u","x":434.3,"y":4.35},{"s":"u","x":437.3,"y":4},{"s":"u","x":501.7,"y":4},{"s":"u","x":504.3,"y":4.22},{"s":"u","x":505.9,"y":4.65},{"s":"u","x":507,"y":5},{"s":"u","x":508.1,"y":4.65},{"s":"u","x":509.7,"y":4.22},{"s":"u","x":512.3,"y":4},{"s":"u","x":542.2,"y":4},{"s":"u","x":545.1,"y":4.31},{"s":"u","x":546.8,"y":4.91},{"s":"u","x":548,"y":5.4},{"s":"u","x":549.2,"y":4.91},{"s":"u","x":550.9,"y":4.31},{"s":"u","x":553.8,"y":4},{"s":"u","x":636,"y":4},{"s":"u","x":639.3,"y":4.87},{"s":"u","x":641.3,"y":6.57},{"s":"u","x":642.7,"y":7.96},{"s":"u","x":644.1,"y":6.57},{"s":"u","x":646.1,"y":4.87},{"s":"u","x":649.4,"y":4},{"s":"u","x":741.5,"y":4},{"s":"u","x":745.5,"y":4.87},{"s":"u","x":747.8,"y":6.57},{"s":"u","x":749.4,"y":7.96},{"s":"u","x":751,"y":6.57},{"s":"u","x":753.3,"y":4.87},{"s":"u","x":757.3,"y":4},{"s":"u","x":780,"y":4},{"s":"u","x":785,"y":4.1},{"s":"u","x":790,"y":4},{"s":"u","x":831.2,"y":4},{"s":"u","x":835.6,"y":4.31},{"s":"u","x":838.2,"y":4.91},{"s":"u","x":840,"y":5.4},{"s":"u","x":841.8,"y":4.91},{"s":"u","x":844.4,"y":4.31},{"s":"u","x":845,"y":4.2},
{"s":"o","x":100,"y":2},{"s":"o","x":154,"y":2},{"s":"o","x":155.2,"y":2.1},{"s":"o","x":156.4,"y":2},{"s":"o","x":198.4,"y":2},{"s":"o","x":199.8,"y":2.27},{"s":"o","x":201.2,"y":2},{"s":"o","x":222.6,"y":2},{"s":"o","x":224.2,"y":2.15},{"s":"o","x":225.8,"y":2},{"s":"o","x":228.5,"y":2},{"s":"o","x":230.1,"y":2.25},{"s":"o","x":231.7,"y":2},{"s":"o","x":244.6,"y":2},{"s":"o","x":245.9,"y":2.41},{"s":"o","x":246.7,"y":3.2},{"s":"o","x":247.2,"y":3.85},{"s":"o","x":247.7,"y":3.2},{"s":"o","x":248.5,"y":2.41},{"s":"o","x":249.8,"y":2},{"s":"o","x":333.3,"y":2},{"s":"o","x":335,"y":2.28},{"s":"o","x":336.1,"y":2.84},{"s":"o","x":336.8,"y":3.29},{"s":"o","x":337.5,"y":2.84},{"s":"o","x":338.6,"y":2.28},{"s":"o","x":340.3,"y":2},{"s":"o","x":350.4,"y":2},{"s":"o","x":352.9,"y":2.27},{"s":"o","x":355.4,"y":2},{"s":"o","x":411.2,"y":2},{"s":"o","x":414.1,"y":2.42},{"s":"o","x":417,"y":2},{"s":"o","x":457,"y":2},{"s":"o","x":459.5,"y":2.18},{"s":"o","x":460.9,"y":2.53},{"s":"o","x":461.9,"y":2.82},{"s":"o","x":462.9,"y":2.53},{"s":"o","x":464.3,"y":2.18},{"s":"o","x":466.8,"y":2},{"s":"o","x":486.8,"y":2},{"s":"o","x":489.4,"y":2.18},{"s":"o","x":491,"y":2.52},{"s":"o","x":492,"y":2.8},{"s":"o","x":493,"y":2.52},{"s":"o","x":494.6,"y":2.18},{"s":"o","x":497.2,"y":2},{"s":"o","x":564.5,"y":2},{"s":"o","x":567.5,"y":2.86},{"s":"o","x":569.3,"y":4.54},{"s":"o","x":570.5,"y":5.9},{"s":"o","x":571.7,"y":4.54},{"s":"o","x":573.5,"y":2.86},{"s":"o","x":576.5,"y":2},{"s":"o","x":656,"y":2},{"s":"o","x":659.5,"y":2.79},{"s":"o","x":661.6,"y":4.34},{"s":"o","x":663,"y":5.6},{"s":"o","x":664.4,"y":4.34},{"s":"o","x":666.5,"y":2.79},{"s":"o","x":670,"y":2},{"s":"o","x":742.8,"y":2},{"s":"o","x":748,"y":2.15},{"s":"o","x":753.2,"y":2},{"s":"o","x":781.7,"y":2},{"s":"o","x":785.8,"y":2.29},{"s":"o","x":788.3,"y":2.85},{"s":"o","x":790,"y":3.3},{"s":"o","x":791.7,"y":2.85},{"s":"o","x":794.2,"y":2.29},{"s":"o","x":798.3,"y":2},{"s":"o","x":838,"y":2},{"s":"o","x":842,"y":2.2},{"s":"o","x":845,"y":2.5},
{"s":"r","x":100,"y":0},{"s":"r","x":164.9,"y":0},{"s":"r","x":165.8,"y":0.17},{"s":"r","x":166.3,"y":0.51},{"s":"r","x":166.7,"y":0.79},{"s":"r","x":167.1,"y":0.51},{"s":"r","x":167.6,"y":0.17},{"s":"r","x":168.5,"y":0},{"s":"r","x":175.4,"y":0},{"s":"r","x":176.4,"y":0.23},{"s":"r","x":176.9,"y":0.67},{"s":"r","x":177.3,"y":1.03},{"s":"r","x":177.7,"y":0.67},{"s":"r","x":178.2,"y":0.23},{"s":"r","x":179.2,"y":0},{"s":"r","x":183.8,"y":0},{"s":"r","x":185.1,"y":0.17},{"s":"r","x":186.4,"y":0},{"s":"r","x":193.7,"y":0},{"s":"r","x":194.7,"y":0.33},{"s":"r","x":195.3,"y":0.98},{"s":"r","x":195.7,"y":1.5},{"s":"r","x":196.1,"y":0.98},{"s":"r","x":196.7,"y":0.33},{"s":"r","x":197.7,"y":0},{"s":"r","x":214.8,"y":0},{"s":"r","x":216.3,"y":0.05},{"s":"r","x":217.8,"y":0},{"s":"r","x":232.7,"y":0},{"s":"r","x":233.5,"y":0.15},{"s":"r","x":234.3,"y":0.44},{"s":"r","x":235.1,"y":0.15},{"s":"r","x":235.9,"y":0},{"s":"r","x":334.7,"y":0},{"s":"r","x":336.4,"y":0.26},{"s":"r","x":337.5,"y":0.78},{"s":"r","x":338.2,"y":1.2},{"s":"r","x":338.9,"y":0.78},{"s":"r","x":340,"y":0.26},{"s":"r","x":341.7,"y":0},{"s":"r","x":345.6,"y":0},{"s":"r","x":347.5,"y":0.11},{"s":"r","x":348.6,"y":0.33},{"s":"r","x":349.3,"y":0.5},{"s":"r","x":350,"y":0.33},{"s":"r","x":351.1,"y":0.11},{"s":"r","x":353,"y":0},{"s":"r","x":435.7,"y":0},{"s":"r","x":438,"y":0.37},{"s":"r","x":439.4,"y":1.09},{"s":"r","x":440.3,"y":1.68},{"s":"r","x":441.2,"y":1.09},{"s":"r","x":442.6,"y":0.37},{"s":"r","x":444.9,"y":0},{"s":"r","x":560.1,"y":0},{"s":"r","x":563,"y":0.66},{"s":"r","x":564.8,"y":1.95},{"s":"r","x":566,"y":3},{"s":"r","x":567.2,"y":1.95},{"s":"r","x":569,"y":0.66},{"s":"r","x":571.9,"y":0},{"s":"r","x":656,"y":0},{"s":"r","x":659.5,"y":0.95},{"s":"r","x":661.6,"y":2.8},{"s":"r","x":663,"y":4.3},{"s":"r","x":664.4,"y":2.8},{"s":"r","x":666.5,"y":0.95},{"s":"r","x":670,"y":0},{"s":"r","x":845,"y":0}
],
"la":[{"s":"e","t":"Exp Ace-W₁","x":752,"y":10.02},{"s":"g","t":"PBEh-3c corrected (sf 0.95)","x":759,"y":7.14},{"s":"u","t":"PBEh-3c (sf 0.95)","x":755,"y":4.99},{"s":"o","t":"B3LYP/6-311++G** (sf 0.976)","x":755,"y":3.07},{"s":"r","t":"SCS(1.1;2/3)-MP2/def2-QZVP (sf 0.97)","x":758,"y":0.93}],
"lb":[{"s":"e","t":"Exp Ace-W₂","x":724,"y":10.48}],
"lc":[{"s":"e","t":"Exp Ace-W₃","x":737,"y":10.43}]
},
"vconcat":[
{"width":540,"height":276,
 "layer":[
  {"data":{"name":"a"},"mark":{"type":"line","strokeWidth":1.6,"clip":true},
   "encoding":{
    "x":{"field":"x","type":"quantitative","scale":{"domain":[100,845],"nice":false,"zero":false},"axis":{"orient":"top","values":[200,300,400,500,600,700,800],"labels":false,"tickSize":-5,"title":null}},
    "y":{"field":"y","type":"quantitative","scale":{"domain":[-0.81,12.38],"nice":false,"zero":false},"axis":{"orient":"left","values":[0,1,2,3,4,5,6,7,8,9,10,11,12],"labels":false,"tickSize":-5,"title":null}},
    "color":{"field":"s","type":"nominal","scale":{"domain":["e","g","u","o","r"],"range":["#000000","#18891b","#1b72b8","#eeb02a","#dc0d0d"]},"legend":null}}},
  {"data":{"name":"la"},"mark":{"type":"text","align":"right","baseline":"middle","fontSize":16.5},
   "encoding":{
    "x":{"field":"x","type":"quantitative","axis":null},
    "y":{"field":"y","type":"quantitative","axis":{"orient":"right","values":[0,1,2,3,4,5,6,7,8,9,10,11,12],"labels":false,"tickSize":-5,"title":null}},
    "text":{"field":"t"},
    "color":{"field":"s","type":"nominal","legend":null}}},
  {"data":{"values":[{"t":"a","x":131.7,"y":10.18}]},"mark":{"type":"text","align":"left","baseline":"alphabetic","fontSize":19,"color":"#000"},
   "encoding":{"x":{"field":"x","type":"quantitative","axis":null},"y":{"field":"y","type":"quantitative","axis":null},"text":{"field":"t"}}}
 ],
 "resolve":{"axis":{"x":"independent","y":"independent"}}
},
{"width":540,"height":278,
 "layer":[
  {"data":{"name":"b"},"mark":{"type":"line","strokeWidth":1.6,"clip":true},
   "encoding":{
    "x":{"field":"x","type":"quantitative","scale":{"domain":[100,845],"nice":false,"zero":false},"axis":{"orient":"top","values":[200,300,400,500,600,700,800],"labels":false,"tickSize":-5,"title":null}},
    "y":{"field":"y","type":"quantitative","scale":{"domain":[-0.81,12.49],"nice":false,"zero":false},"axis":{"orient":"left","values":[0,1,2,3,4,5,6,7,8,9,10,11,12],"labels":false,"tickSize":-5,"title":null}},
    "color":{"field":"s","type":"nominal","scale":{"domain":["e","g","u","o","r"],"range":["#000000","#18891b","#1b72b8","#eeb02a","#dc0d0d"]},"legend":null}}},
  {"data":{"name":"lb"},"mark":{"type":"text","align":"right","baseline":"middle","fontSize":16.5},
   "encoding":{
    "x":{"field":"x","type":"quantitative","axis":null},
    "y":{"field":"y","type":"quantitative","axis":{"orient":"right","values":[0,1,2,3,4,5,6,7,8,9,10,11,12],"labels":false,"tickSize":-5,"title":null}},
    "text":{"field":"t"},
    "color":{"field":"s","type":"nominal","legend":null}}},
  {"data":{"values":[{"t":"b","x":133,"y":10.53}]},"mark":{"type":"text","align":"left","baseline":"alphabetic","fontSize":19,"color":"#000"},
   "encoding":{"x":{"field":"x","type":"quantitative","axis":null},"y":{"field":"y","type":"quantitative","axis":null},"text":{"field":"t"}}}
 ],
 "resolve":{"axis":{"x":"independent","y":"independent"}}
},
{"width":540,"height":278,
 "layer":[
  {"data":{"name":"c"},"mark":{"type":"line","strokeWidth":1.6,"clip":true},
   "encoding":{
    "x":{"field":"x","type":"quantitative","scale":{"domain":[100,845],"nice":false,"zero":false},"axis":{"orient":"top","values":[200,300,400,500,600,700,800],"labels":false,"tickSize":-5,"title":null}},
    "y":{"field":"y","type":"quantitative","scale":{"domain":[-0.82,12.38],"nice":false,"zero":false},"axis":{"orient":"left","values":[0,1,2,3,4,5,6,7,8,9,10,11,12],"labels":false,"tickSize":-5,"title":null}},
    "color":{"field":"s","type":"nominal","scale":{"domain":["e","g","u","o","r"],"range":["#000000","#18891b","#1b72b8","#eeb02a","#dc0d0d"]},"legend":null}}},
  {"data":{"name":"lc"},"mark":{"type":"text","align":"right","baseline":"middle","fontSize":16.5},
   "encoding":{
    "x":{"field":"x","type":"quantitative","axis":{"orient":"bottom","values":[100,200,300,400,500,600,700,800],"labelExpr":"datum.value % 200 == 0 ? datum.label : ''","tickSize":5,"labelFontSize":16,"labelPadding":8,"title":"Wavenumber (cm⁻¹)","titleFontSize":19,"titleFontWeight":"normal","titlePadding":3}},
    "y":{"field":"y","type":"quantitative","axis":{"orient":"right","values":[0,1,2,3,4,5,6,7,8,9,10,11,12],"labels":false,"tickSize":-5,"title":null}},
    "text":{"field":"t"},
    "color":{"field":"s","type":"nominal","legend":null}}},
  {"data":{"values":[{"t":"c","x":133,"y":10.81}]},"mark":{"type":"text","align":"left","baseline":"alphabetic","fontSize":19,"color":"#000"},
   "encoding":{"x":{"field":"x","type":"quantitative","axis":null},"y":{"field":"y","type":"quantitative","axis":null},"text":{"field":"t"}}}
 ],
 "resolve":{"axis":{"x":"independent","y":"independent"}}
}
]
}
